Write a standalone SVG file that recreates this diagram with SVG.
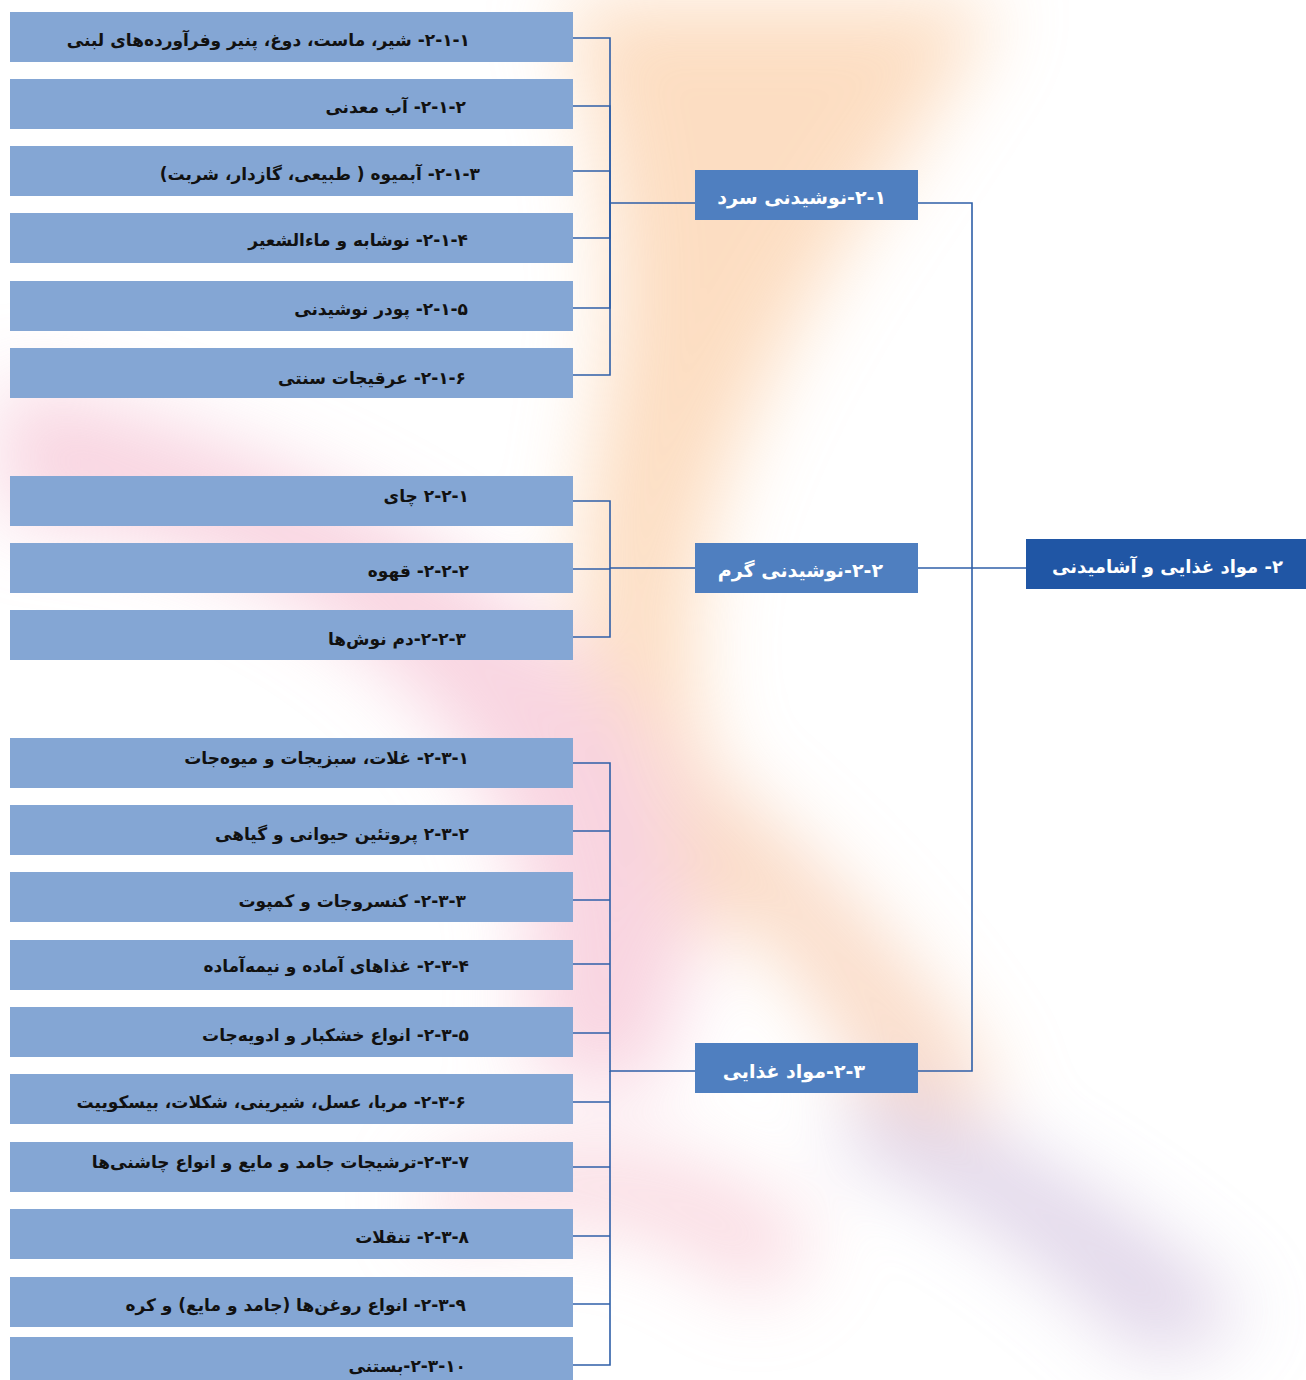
<svg xmlns="http://www.w3.org/2000/svg" width="1306" height="1380" viewBox="0 0 1306 1380">
<style>
.leaf{fill:#84a6d4}
.mid{fill:#4f7fc0}
.root{fill:#2056a5}
.lt{font-family:"DejaVu Sans",sans-serif;font-weight:bold;font-size:17px;fill:#111;direction:rtl;text-anchor:start}
.mt{font-family:"DejaVu Sans",sans-serif;font-weight:bold;font-size:19px;fill:#fff;direction:rtl;text-anchor:start}
.rt{font-size:18px}
.conn{fill:none;stroke:#2f5fa8;stroke-width:1.6}
</style>
<defs>
<filter id="blur" x="-50%" y="-50%" width="200%" height="200%"><feGaussianBlur stdDeviation="40"/></filter>
</defs>
<rect width="1306" height="1380" fill="#ffffff"/>
<g id="background" filter="url(#blur)" opacity="0.6">
<path d="M560,0 C700,0 900,0 1000,0 C920,150 780,300 710,520 C670,680 700,820 800,900 L700,940 C590,800 560,600 600,420 C630,260 600,120 560,0 Z" fill="#fbc79a"/>
<path d="M0,380 C200,420 450,520 620,700 C700,800 720,950 640,1100 L520,1060 C560,900 500,760 380,660 C260,560 120,520 0,520 Z" fill="#f4b8cc"/>
<path d="M700,760 C820,860 920,960 1000,1100 L900,1140 C840,1020 760,920 660,840 Z" fill="#f7c2a0"/>
<path d="M860,1080 C980,1120 1120,1200 1250,1320 L1150,1360 C1050,1260 950,1190 840,1150 Z" fill="#c9b6d8"/>
<path d="M420,1180 C560,1120 700,1140 820,1240 L760,1300 C660,1220 560,1200 440,1240 Z" fill="#f6c0cc"/>
</g>
<g id="connectors" class="conn">
<path d="M573,38 H610 V203 H695"/>
<path d="M573,106 H610 V203"/>
<path d="M573,171 H610 V203"/>
<path d="M573,238 H610 V203"/>
<path d="M573,308 H610 V203"/>
<path d="M573,375 H610 V203"/>
<path d="M573,501 H610 V568 H695"/>
<path d="M573,569 H610"/>
<path d="M573,637 H610 V568"/>
<path d="M573,763 H610 V1071 H695"/>
<path d="M573,831 H610"/>
<path d="M573,900 H610"/>
<path d="M573,964 H610"/>
<path d="M573,1033 H610"/>
<path d="M573,1102 H610"/>
<path d="M573,1167 H610"/>
<path d="M573,1236 H610"/>
<path d="M573,1304 H610"/>
<path d="M573,1365 H610 V1071"/>
<path d="M918,203 H972 V1071 H918"/>
<path d="M918,568 H1026"/>
</g>
<g id="n-2-1-1"><rect class="leaf" x="10" y="12" width="563" height="50"/><text class="lt" x="470" y="46">۲-۱-۱- شیر، ماست، دوغ، پنیر وفرآورده‌های لبنی</text></g>
<g id="n-2-1-2"><rect class="leaf" x="10" y="79" width="563" height="50"/><text class="lt" x="466" y="113">۲-۱-۲- آب معدنی</text></g>
<g id="n-2-1-3"><rect class="leaf" x="10" y="146" width="563" height="50"/><text class="lt" x="480" y="180">۲-۱-۳- آبمیوه ( طبیعی، گازدار، شربت)</text></g>
<g id="n-2-1-4"><rect class="leaf" x="10" y="213" width="563" height="50"/><text class="lt" x="468" y="246">۲-۱-۴- نوشابه و ماءالشعیر</text></g>
<g id="n-2-1-5"><rect class="leaf" x="10" y="281" width="563" height="50"/><text class="lt" x="468" y="315">۲-۱-۵- پودر نوشیدنی</text></g>
<g id="n-2-1-6"><rect class="leaf" x="10" y="348" width="563" height="50"/><text class="lt" x="466" y="384">۲-۱-۶- عرقیجات سنتی</text></g>
<g id="n-2-2-1"><rect class="leaf" x="10" y="476" width="563" height="50"/><text class="lt" x="469" y="502">۲-۲-۱ چای</text></g>
<g id="n-2-2-2"><rect class="leaf" x="10" y="543" width="563" height="50"/><text class="lt" x="469" y="577">۲-۲-۲- قهوه</text></g>
<g id="n-2-2-3"><rect class="leaf" x="10" y="610" width="563" height="50"/><text class="lt" x="466" y="645">۲-۲-۳-دم نوش‌ها</text></g>
<g id="n-2-3-1"><rect class="leaf" x="10" y="738" width="563" height="50"/><text class="lt" x="469" y="764">۲-۳-۱- غلات، سبزیجات و میوه‌جات</text></g>
<g id="n-2-3-2"><rect class="leaf" x="10" y="805" width="563" height="50"/><text class="lt" x="469" y="840">۲-۳-۲ پروتئین حیوانی و گیاهی</text></g>
<g id="n-2-3-3"><rect class="leaf" x="10" y="872" width="563" height="50"/><text class="lt" x="466" y="907">۲-۳-۳- کنسروجات و کمپوت</text></g>
<g id="n-2-3-4"><rect class="leaf" x="10" y="940" width="563" height="50"/><text class="lt" x="469" y="972">۲-۳-۴- غذاهای آماده و نیمه‌آماده</text></g>
<g id="n-2-3-5"><rect class="leaf" x="10" y="1007" width="563" height="50"/><text class="lt" x="469" y="1041">۲-۳-۵- انواع خشکبار و ادویه‌جات</text></g>
<g id="n-2-3-6"><rect class="leaf" x="10" y="1074" width="563" height="50"/><text class="lt" x="466" y="1108">۲-۳-۶- مربا، عسل، شیرینی، شکلات، بیسکوییت</text></g>
<g id="n-2-3-7"><rect class="leaf" x="10" y="1142" width="563" height="50"/><text class="lt" x="469" y="1168">۲-۳-۷-ترشیجات جامد و مایع و انواع چاشنی‌ها</text></g>
<g id="n-2-3-8"><rect class="leaf" x="10" y="1209" width="563" height="50"/><text class="lt" x="469" y="1243">۲-۳-۸- تنقلات</text></g>
<g id="n-2-3-9"><rect class="leaf" x="10" y="1277" width="563" height="50"/><text class="lt" x="466" y="1311">۲-۳-۹- انواع روغن‌ها (جامد و مایع) و کره</text></g>
<g id="n-2-3-10"><rect class="leaf" x="10" y="1337" width="563" height="50"/><text class="lt" x="466" y="1372">۲-۳-۱۰-بستنی</text></g>
<g id="n-2-1"><rect class="mid" x="695" y="170" width="223" height="50"/><text class="mt" x="886" y="204">۲-۱-نوشیدنی سرد</text></g>
<g id="n-2-2"><rect class="mid" x="695" y="543" width="223" height="50"/><text class="mt" x="883" y="577">۲-۲-نوشیدنی گرم</text></g>
<g id="n-2-3"><rect class="mid" x="695" y="1043" width="223" height="50"/><text class="mt" x="865" y="1078">۲-۳-مواد غذایی</text></g>
<g id="n-2"><rect class="root" x="1026" y="539" width="280" height="50"/><text class="mt rt" x="1283" y="573">۲- مواد غذایی و آشامیدنی</text></g>
</svg>
